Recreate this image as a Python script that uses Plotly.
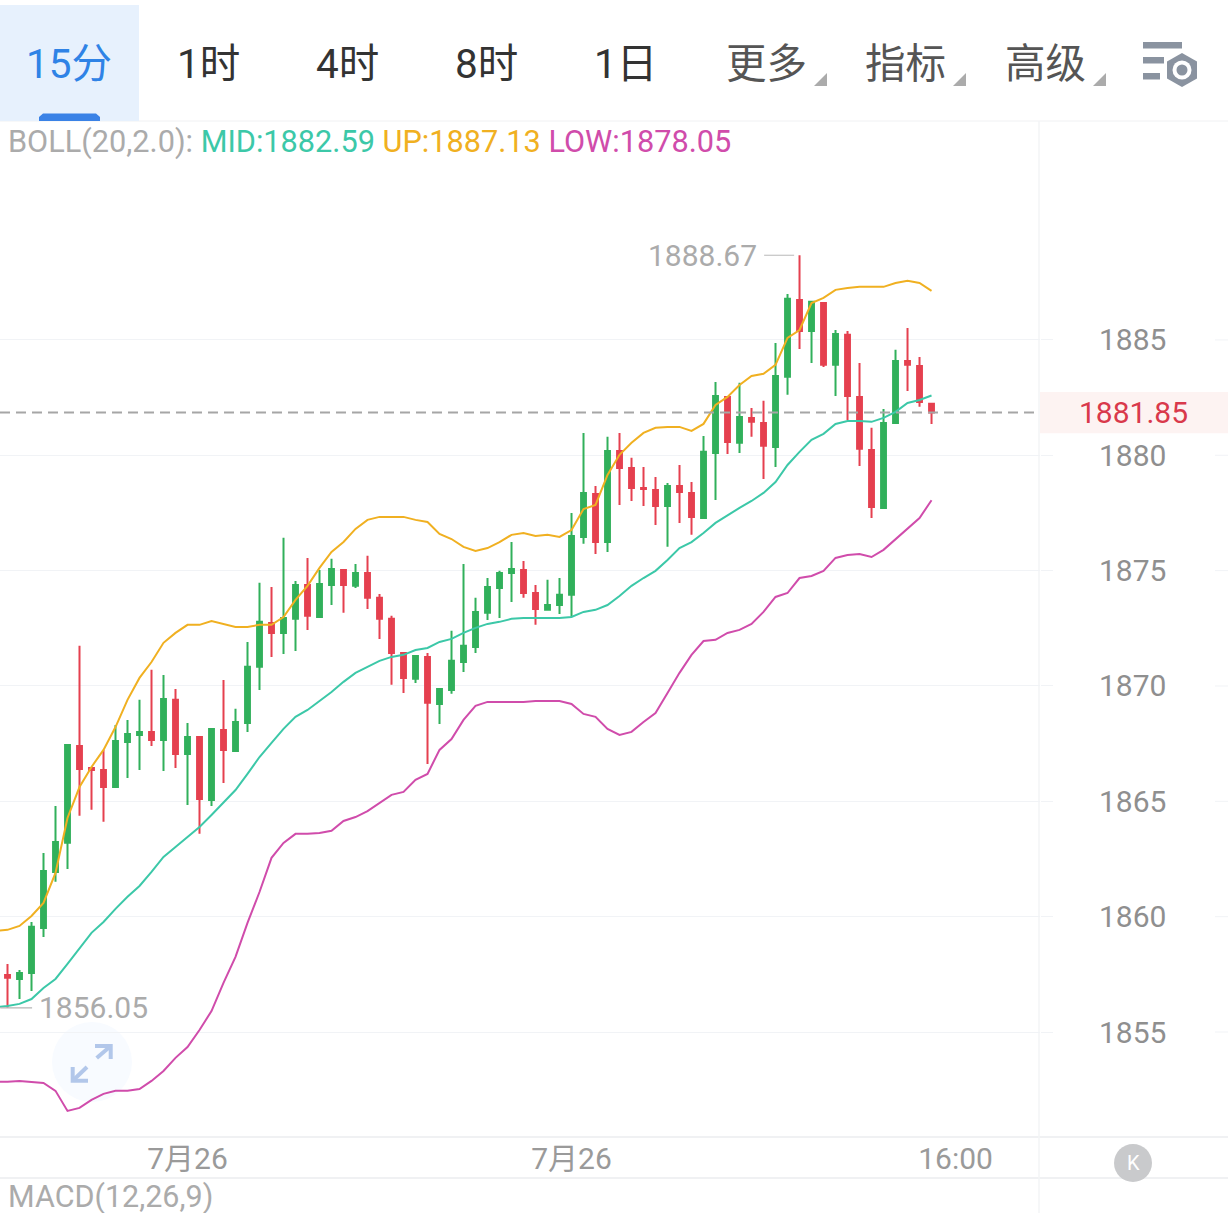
import plotly.graph_objects as go

W, H = 1228, 1213

opens = [1857.47,1857.30,1857.56,1859.51,1861.94,1863.20,1867.40,1866.45,1866.36,1865.62,
         1867.57,1867.88,1868.01,1867.66,1869.40,1867.05,1867.79,1865.06,1868.09,1867.18,
         1868.40,1870.83,1872.73,1872.30,1872.91,1874.38,1872.99,1874.38,1875.03,1874.34,
         1874.90,1873.82,1872.91,1871.43,1870.31,1871.26,1869.22,1869.83,1871.04,1871.69,
         1873.17,1874.25,1874.90,1875.03,1874.03,1873.30,1873.51,1873.95,1876.46,1878.32,
         1876.24,1880.19,1879.45,1878.58,1878.50,1877.80,1878.67,1878.37,1877.28,1880.10,
         1882.53,1880.54,1881.62,1881.40,1880.36,1883.40,1886.73,1885.39,1886.60,1883.92,
         1885.22,1882.53,1880.23,1877.72,1881.40,1884.09,1883.87,1882.23]
highs = [1857.95,1857.69,1859.77,1862.76,1864.80,1867.44,1871.74,1866.49,1867.23,1868.31,
         1868.53,1869.40,1870.70,1870.48,1869.87,1868.40,1867.79,1868.14,1870.26,1869.01,
         1871.91,1874.47,1874.29,1876.42,1874.55,1875.55,1875.03,1875.51,1875.03,1875.29,
         1875.64,1873.99,1873.04,1871.43,1871.30,1871.43,1869.87,1872.39,1875.29,1873.82,
         1874.68,1874.99,1876.24,1875.42,1874.38,1874.60,1874.68,1877.50,1880.97,1878.67,
         1880.80,1880.97,1879.89,1879.49,1879.06,1878.80,1879.58,1878.84,1880.84,1883.18,
         1882.57,1883.14,1882.05,1882.36,1884.87,1886.99,1888.67,1886.65,1886.60,1885.43,
         1885.39,1884.00,1881.19,1882.01,1884.57,1885.52,1884.26,1882.23]
lows = [1856.05,1856.43,1856.78,1859.12,1861.51,1862.07,1864.37,1864.63,1864.11,1865.62,
        1866.01,1866.36,1867.40,1866.32,1866.45,1864.84,1863.59,1864.80,1865.80,1867.18,
        1868.01,1869.83,1871.26,1871.39,1871.52,1872.43,1872.95,1873.51,1873.17,1874.25,
        1873.34,1872.04,1870.05,1869.70,1870.13,1866.62,1868.35,1869.66,1870.61,1871.43,
        1872.86,1872.95,1873.64,1873.82,1872.65,1873.30,1873.12,1872.99,1876.16,1875.72,
        1875.81,1877.85,1878.02,1877.80,1876.98,1876.03,1877.07,1876.55,1877.28,1878.06,
        1880.06,1880.10,1880.80,1878.97,1879.49,1882.62,1884.61,1884.00,1883.83,1882.57,
        1881.53,1879.54,1877.28,1877.72,1881.40,1882.79,1882.10,1881.36]
closes = [1857.35,1857.56,1859.56,1861.98,1863.24,1867.44,1866.40,1866.36,1865.62,1867.62,
          1867.92,1868.01,1867.66,1869.44,1867.05,1867.79,1865.10,1868.14,1867.23,1868.44,
          1870.83,1872.78,1872.30,1872.95,1874.38,1873.04,1874.42,1875.07,1874.38,1874.90,
          1873.82,1872.91,1871.43,1870.35,1871.30,1869.27,1869.87,1871.09,1871.74,1873.21,
          1874.29,1874.90,1875.07,1874.03,1873.34,1873.51,1873.95,1876.50,1878.37,1876.24,
          1880.19,1879.45,1878.58,1878.54,1877.80,1878.67,1878.41,1877.33,1880.15,1882.57,
          1880.58,1881.66,1881.45,1880.41,1883.44,1886.78,1885.39,1886.65,1883.92,1885.26,
          1882.57,1880.28,1877.76,1881.40,1884.09,1883.92,1882.31,1881.85]

# The bands carry one extra leading bar that runs off the left edge of the panel
boll_mid = [1856.08,1856.13,1856.22,1856.43,1856.91,1857.30,1857.95,1858.60,1859.30,1859.77,1860.34,
            1860.86,1861.33,1861.94,1862.59,1863.02,1863.46,1863.89,1864.41,1864.93,1865.49,
            1866.19,1866.92,1867.53,1868.14,1868.66,1868.96,1869.35,1869.74,1870.18,1870.57,
            1870.83,1871.09,1871.26,1871.35,1871.56,1871.65,1871.91,1872.04,1872.30,1872.52,
            1872.69,1872.78,1872.91,1872.95,1872.95,1872.95,1872.95,1872.99,1873.21,1873.30,
            1873.51,1873.90,1874.34,1874.68,1874.99,1875.46,1875.98,1876.24,1876.63,1877.07,
            1877.41,1877.72,1878.02,1878.37,1878.84,1879.58,1880.15,1880.67,1880.93,1881.36,
            1881.49,1881.49,1881.45,1881.62,1881.88,1882.27,1882.40,1882.59]
boll_up = [1859.38,1859.43,1859.60,1860.03,1860.60,1861.90,1864.28,1865.62,1866.49,1867.23,1868.22,
           1869.40,1870.35,1871.04,1871.87,1872.30,1872.65,1872.65,1872.82,1872.69,1872.56,
           1872.56,1872.65,1872.65,1872.99,1873.73,1874.34,1875.12,1875.81,1876.24,1876.81,
           1877.20,1877.33,1877.33,1877.33,1877.20,1877.11,1876.59,1876.37,1876.03,1875.85,
           1875.98,1876.24,1876.55,1876.63,1876.50,1876.55,1876.46,1876.76,1877.67,1877.85,
           1879.15,1880.02,1880.54,1880.97,1881.19,1881.23,1881.23,1881.06,1881.36,1882.18,
           1882.53,1883.05,1883.44,1883.53,1883.92,1885.09,1885.43,1886.60,1886.82,1887.17,
           1887.25,1887.30,1887.30,1887.30,1887.47,1887.56,1887.47,1887.13]
boll_low = [1852.84,1852.84,1852.88,1852.84,1852.79,1852.45,1851.58,1851.71,1852.06,1852.32,1852.45,
            1852.45,1852.53,1852.88,1853.31,1853.88,1854.35,1855.09,1855.91,1857.13,1858.26,
            1859.73,1861.07,1862.55,1863.20,1863.59,1863.59,1863.63,1863.72,1864.15,1864.32,
            1864.58,1864.93,1865.28,1865.41,1865.93,1866.19,1867.23,1867.70,1868.53,1869.14,
            1869.31,1869.31,1869.31,1869.31,1869.35,1869.35,1869.35,1869.22,1868.79,1868.66,
            1868.14,1867.88,1868.01,1868.44,1868.83,1869.70,1870.57,1871.35,1871.95,1872.00,
            1872.30,1872.43,1872.69,1873.21,1873.86,1874.03,1874.68,1874.77,1874.99,1875.55,
            1875.68,1875.72,1875.59,1875.90,1876.37,1876.81,1877.28,1878.05]

price_ticks = [1855, 1860, 1865, 1870, 1875, 1880, 1885]
time_tick_bars = [15, 47, 79]
time_tick_labels = ["7月26", "7月26", "16:00"]
tabs = ["15分", "1时", "4时", "8时", "1日", "更多", "指标", "高级"]

GREEN, RED = "#31b05b", "#e5404f"
C_MID, C_UP, C_LOW = "#3cc8a8", "#f0b021", "#d04cab"
GRID = "#f1f3f6"
FONT = "Roboto, 'Noto Sans CJK SC', sans-serif"


def px(x):
    return x / W


def py(y):
    return 1 - y / H


def path(points, close=True):
    d = "M" + " L".join(f"{px(x):.5f},{py(y):.5f}" for x, y in points)
    return d + (" Z" if close else "")


def circle_shape(cx, cy, r, color, layer="above"):
    return dict(type="circle", xref="paper", yref="paper", layer=layer,
                x0=px(cx - r), x1=px(cx + r), y0=py(cy + r), y1=py(cy - r),
                fillcolor=color, line=dict(width=0))


def label(text, x, y, size, color, anchor="center"):
    return dict(text=text, x=px(x), y=py(y), xref="paper", yref="paper", showarrow=False,
                xanchor=anchor, yanchor="middle", font=dict(size=size, color=color, family=FONT))


bars = list(range(len(closes)))
band_bars = list(range(-1, len(closes)))
fig = go.Figure()
fig.add_trace(go.Candlestick(
    x=bars, open=opens, high=highs, low=lows, close=closes, whiskerwidth=0,
    increasing=dict(line=dict(color=GREEN, width=2), fillcolor=GREEN),
    decreasing=dict(line=dict(color=RED, width=2), fillcolor=RED),
))
for values, color in ((boll_mid, C_MID), (boll_up, C_UP), (boll_low, C_LOW)):
    fig.add_trace(go.Scatter(x=band_bars, y=values, mode="lines",
                             line=dict(color=color, width=2)))

shapes = []
# Frame lines of the chart panels
for y in (121, 1137, 1178):
    shapes.append(dict(type="line", xref="paper", yref="paper", x0=0, x1=1, y0=py(y), y1=py(y),
                       line=dict(color="#f0f1f3", width=2 if y > 121 else 1), layer="below"))
shapes.append(dict(type="line", xref="paper", yref="paper", x0=px(1039), x1=px(1039), y0=py(121), y1=0,
                   line=dict(color="#f3f4f6", width=1.5), layer="below"))
for v in price_ticks:
    shapes.append(dict(type="line", xref="paper", yref="y", x0=px(1215), x1=1, y0=v, y1=v,
                       line=dict(color=GRID, width=1), layer="below"))

# Last price marker
last = closes[-1]
shapes.append(dict(type="rect", xref="paper", yref="y", x0=px(1040), x1=1, y0=last - 0.89, y1=last + 0.89,
                   fillcolor="#fdf3f2", line=dict(width=0), layer="below"))
shapes.append(dict(type="line", xref="x", yref="y", x0=-0.625, x1=85.6, y0=last, y1=last,
                   line=dict(color="#a6a6a6", width=2, dash="10px,6px"), layer="above"))

# Leader lines of the extreme labels
hi_i = highs.index(max(highs))
lo_i = lows.index(min(lows))
shapes.append(dict(type="line", xref="x", yref="y", x0=hi_i - 2.95, x1=hi_i - 0.45,
                   y0=highs[hi_i], y1=highs[hi_i], line=dict(color="#c4c4c4", width=1.2)))
shapes.append(dict(type="line", xref="x", yref="y", x0=lo_i - 0.6, x1=lo_i + 2.05,
                   y0=lows[lo_i], y1=lows[lo_i], line=dict(color="#b5b5b5", width=1.2)))

# Selected interval tab
shapes.append(dict(type="rect", xref="paper", yref="paper", x0=0, x1=px(139), y0=py(121), y1=py(5),
                   fillcolor="#e7f1fd", line=dict(width=0), layer="below"))
shapes.append(dict(type="path", xref="paper", yref="paper", fillcolor="#3a82e6", line=dict(width=0),
                   path=path([(39, 121), (39, 117), (43, 113.5), (96, 113.5), (100, 117), (100, 121)])))

# Small corner triangles on the menu items
for right in (827, 966, 1106):
    shapes.append(dict(type="path", xref="paper", yref="paper", fillcolor="#ababab", line=dict(width=0),
                       path=path([(right - 13, 86), (right, 86), (right, 73)])))

# Settings icon
ICON = "#8a93a0"
for x1, y0, y1 in ((1182, 42, 48.5), (1164, 57, 63.5), (1160, 73, 79.5)):
    shapes.append(dict(type="rect", xref="paper", yref="paper", x0=px(1143), x1=px(x1), y0=py(y1), y1=py(y0),
                       fillcolor=ICON, line=dict(width=0)))
shapes.append(dict(type="path", xref="paper", yref="paper", fillcolor=ICON, line=dict(width=0),
                   path=path([(1182, 53), (1197, 61.5), (1197, 78.5), (1182, 87), (1167, 78.5), (1167, 61.5)])))
shapes.append(circle_shape(1182, 70, 9.5, "#ffffff"))
shapes.append(circle_shape(1182, 70, 5.5, ICON))

# Fullscreen button
shapes.append(circle_shape(92, 1062, 40, "#f8fbff", layer="below"))
ARROW = dict(color="#b2c7ea", width=4)
for pts in ([(95, 1046), (110.7, 1046), (110.7, 1059)], [(96.7, 1058), (110.7, 1046)],
            [(72.7, 1067), (72.7, 1080.7), (88, 1080.7)], [(72.7, 1080.7), (87, 1067)]):
    shapes.append(dict(type="path", xref="paper", yref="paper", line=ARROW, path=path(pts, close=False)))

# Kline toggle button
shapes.append(circle_shape(1133, 1163, 19, "#c9cacc"))

annotations = []
tab_centres = [69, 208, 347, 486, 625, 766, 905, 1045]
tab_colors = ["#2f83e6"] + ["#333333"] * 4 + ["#555555"] * 3
for t, cx, col in zip(tabs, tab_centres, tab_colors):
    annotations.append(label(t, cx, 63.5, 40.5, col))

annotations.append(label(
    "BOLL(20,2.0): "
    f"<span style='color:{C_MID}'>MID:{boll_mid[-1]:.2f}</span> "
    f"<span style='color:{C_UP}'>UP:{boll_up[-1]:.2f}</span> "
    f"<span style='color:{C_LOW}'>LOW:{boll_low[-1]:.2f}</span>",
    6, 142, 30.7, "#ababab", "left"))
annotations.append(label("MACD(12,26,9)", 6, 1197, 30.5, "#ababab", "left"))
annotations.append(label("K", 1133, 1163, 20, "#ffffff"))
annotations.append(dict(text=f"{last:.2f}", x=px(1133), y=last, xref="paper", yref="y", showarrow=False,
                        xanchor="center", yanchor="middle", font=dict(size=30, color="#d9394b", family=FONT)))
annotations.append(dict(text=f"{highs[hi_i]:.2f}", x=hi_i, y=highs[hi_i], showarrow=False, xanchor="right",
                        yanchor="middle", xshift=-41, font=dict(size=30, color="#ababab", family=FONT)))
annotations.append(dict(text=f"{lows[lo_i]:.2f}", x=lo_i, y=lows[lo_i], showarrow=False, xanchor="left",
                        yanchor="middle", xshift=29, font=dict(size=30, color="#ababab", family=FONT)))

fig.update_layout(
    width=W, height=H, margin=dict(l=0, r=0, t=0, b=0), autosize=False,
    paper_bgcolor="#ffffff", plot_bgcolor="#ffffff", showlegend=False, boxgap=0.42,
    shapes=shapes, annotations=annotations, font=dict(family=FONT),
    xaxis=dict(domain=[0, px(1040)], range=[-0.625, 86.04], rangeslider=dict(visible=False),
               tickmode="array", tickvals=time_tick_bars, ticktext=time_tick_labels,
               showgrid=False, zeroline=False, showline=False, ticks="", ticklabelstandoff=1,
               tickfont=dict(size=30, color="#9a9a9a", family=FONT)),
    yaxis=dict(domain=[py(1137), py(121)], range=[1850.45, 1894.49], side="right",
               tickmode="array", tickvals=price_ticks, ticks="outside", ticklen=12, tickcolor=GRID,
               tickwidth=1, gridcolor=GRID, gridwidth=1, zeroline=False, showline=False,
               ticklabelstandoff=40, tickfont=dict(size=30, color="#8f8f8f", family=FONT)),
)

fig.write_html("out.html", config=dict(displayModeBar=False))
